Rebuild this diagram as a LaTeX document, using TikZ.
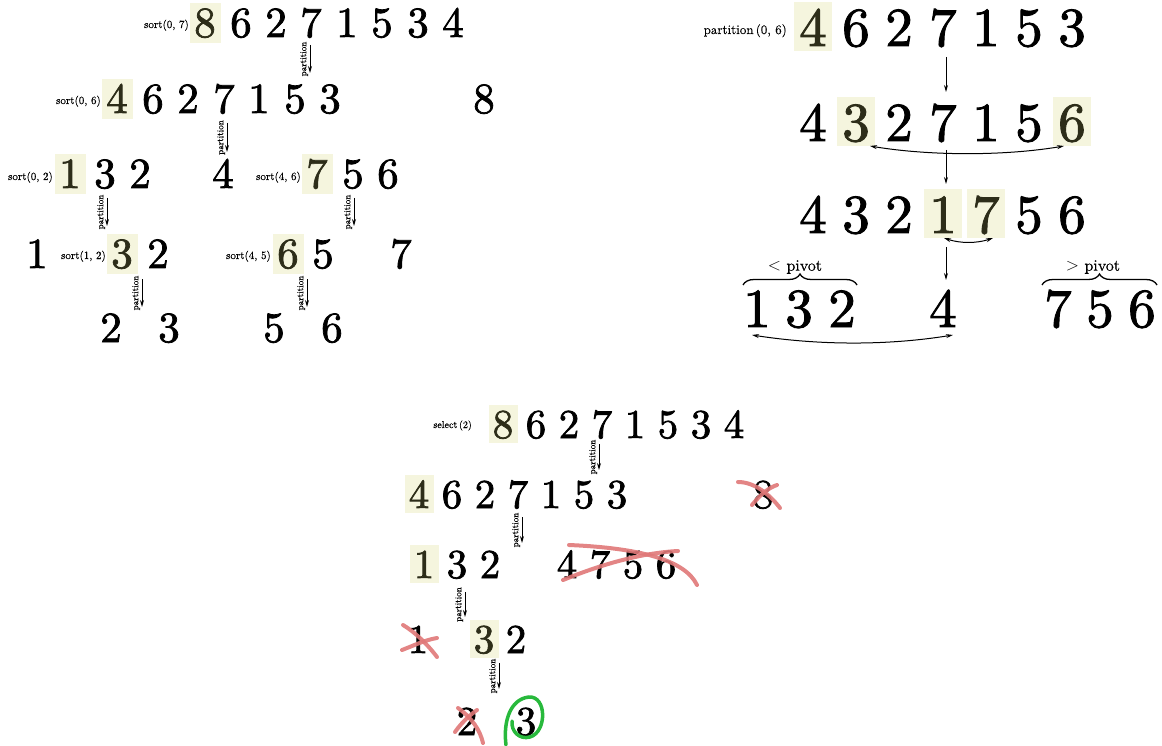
\documentclass[tikz,border=0pt]{standalone}
\usepackage{fontspec}
\setmainfont{lmroman10-regular.otf}[FakeBold=0.4]
\newfontfamily\digfont{lmroman10-regular.otf}[FakeBold=1.7]
\usetikzlibrary{arrows.meta,decorations.pathreplacing}
\definecolor{hl}{RGB}{245,245,222}
\definecolor{hltext}{RGB}{45,45,25}
\definecolor{crossred}{RGB}{224,120,120}
\definecolor{circgreen}{RGB}{40,185,60}
\tikzset{
 dA/.style={font=\digfont\fontsize{43}{43}\selectfont, anchor=base, inner sep=0pt},
 dB/.style={font=\digfont\fontsize{55}{55}\selectfont, anchor=base, inner sep=0pt},
 dC/.style={font=\digfont\fontsize{41}{41}\selectfont, anchor=base, inner sep=0pt},
 hlA/.style={fill=hl, text=hltext, text height=34pt, text depth=6pt, minimum width=31pt},
 hlB/.style={fill=hl, text=hltext, text height=44pt, text depth=5pt, minimum width=38pt},
 hlC/.style={fill=hl, text=hltext, text height=33pt, text depth=5pt, minimum width=29pt},
 lbl/.style={font=\fontsize{11}{13}\selectfont, anchor=base east, inner sep=0pt},
 lblB/.style={font=\fontsize{13}{15}\selectfont, anchor=base east, inner sep=0pt},
 lblC/.style={font=\fontsize{10}{12}\selectfont, anchor=base east, inner sep=0pt},
 arr/.style={-{Stealth[length=7pt,width=4pt]}, line width=1pt},
 dbl/.style={{Stealth[length=7pt,width=4pt]}-{Stealth[length=7pt,width=4pt]}, line width=1pt},
 plab/.style={font=\fontsize{9}{10}\selectfont, rotate=90, anchor=south, inner sep=1.5pt, midway},
 pivlab/.style={font=\fontsize{16}{18}\selectfont, inner sep=0pt},
 brc/.style={decorate, decoration={brace, amplitude=11pt}, line width=1.3pt},
 cross/.style={draw=crossred, line width=4pt, line cap=round, opacity=0.9},
 loop/.style={draw=circgreen, line width=3.5pt, line cap=round},
}
\begin{document}
\begin{tikzpicture}[x=1pt,y=-1pt]
\useasboundingbox (0,0) rectangle (1162,746);

% ---------------- top-left: sort ----------------
\node[lbl] (l1) at (189,28) {sort(0, 7)};
\node[dA,hlA] (a1) at (205,37) {8};
\node[dA] (a2) at (241,37) {6};
\node[dA] (a3) at (276,37) {2};
\node[dA] (a4) at (311,37) {7};
\node[dA] (a5) at (347,37) {1};
\node[dA] (a6) at (382,37) {5};
\node[dA] (a7) at (418,37) {3};
\node[dA] (a8) at (453,37) {4};
\coordinate (pa1) at (310,45); \coordinate (pa2) at (310,73);
\draw[arr] (pa1) -- node[plab]{partition} (pa2);

\node[lbl] (l2) at (101,104) {sort(0, 6)};
\node[dA,hlA] (b1) at (117,113) {4};
\node[dA] (b2) at (153,113) {6};
\node[dA] (b3) at (188,113) {2};
\node[dA] (b4) at (224,113) {7};
\node[dA] (b5) at (259,113) {1};
\node[dA] (b6) at (295,113) {5};
\node[dA] (b7) at (330,113) {3};
\node[dA] (b8) at (484,113) {8};
\coordinate (pb1) at (227,123); \coordinate (pb2) at (227,152);
\draw[arr] (pb1) -- node[plab]{partition} (pb2);

\node[lbl] (l3) at (53,180) {sort(0, 2)};
\node[dA,hlA] (c1) at (70,188) {1};
\node[dA] (c2) at (105,188) {3};
\node[dA] (c3) at (140,188) {2};
\node[dA] (c4) at (223,188) {4};
\node[lbl] (l4) at (301,180) {sort(4, 6)};
\node[dA,hlA] (c5) at (317,188) {7};
\node[dA] (c6) at (353,188) {5};
\node[dA] (c7) at (388,188) {6};
\coordinate (pc1) at (107,198); \coordinate (pc2) at (107,226);
\draw[arr] (pc1) -- node[plab]{partition} (pc2);
\coordinate (pc3) at (354,198); \coordinate (pc4) at (354,226);
\draw[arr] (pc3) -- node[plab]{partition} (pc4);

\node[dA] (d1) at (37,268) {1};
\node[lbl] (l5) at (106,259) {sort(1, 2)};
\node[dA,hlA] (d2) at (122,268) {3};
\node[dA] (d3) at (158,268) {2};
\node[lbl] (l6) at (271,259) {sort(4, 5)};
\node[dA,hlA] (d4) at (288,268) {6};
\node[dA] (d5) at (323,268) {5};
\node[dA] (d6) at (401,268) {7};
\coordinate (pd1) at (142,279); \coordinate (pd2) at (142,307);
\draw[arr] (pd1) -- node[plab]{partition} (pd2);
\coordinate (pd3) at (307,279); \coordinate (pd4) at (307,307);
\draw[arr] (pd3) -- node[plab]{partition} (pd4);

\node[dA] (e1) at (111,342) {2};
\node[dA] (e2) at (169,342) {3};
\node[dA] (e3) at (274,342) {5};
\node[dA] (e4) at (332,342) {6};

% ---------------- right: partition ----------------
\node[lblB] (r0) at (787,34) {partition\,(0, 6)};
\node[dB,hlB] (f1) at (813,46) {4};
\node[dB] (f2) at (856,46) {6};
\node[dB] (f3) at (899,46) {2};
\node[dB] (f4) at (943,46) {7};
\node[dB] (f5) at (986,46) {1};
\node[dB] (f6) at (1029,46) {5};
\node[dB] (f7) at (1072,46) {3};
\coordinate (pf1) at (946,57); \coordinate (pf2) at (946,92);
\draw[arr] (pf1) -- (pf2);

\node[dB] (g1) at (813,141) {4};
\node[dB,hlB] (g2) at (856,141) {3};
\node[dB] (g3) at (899,141) {2};
\node[dB] (g4) at (943,141) {7};
\node[dB] (g5) at (986,141) {1};
\node[dB] (g6) at (1029,141) {5};
\node[dB,hlB] (g7) at (1072,141) {6};
\coordinate (sg1) at (870,146); \coordinate (sg2) at (1064,146);
\draw[dbl] (sg1) .. controls (930,156) and (1005,156) .. (sg2);
\coordinate (pg1) at (946,150); \coordinate (pg2) at (946,184);
\draw[arr] (pg1) -- (pg2);

\node[dB] (h1) at (813,233) {4};
\node[dB] (h2) at (856,233) {3};
\node[dB] (h3) at (899,233) {2};
\node[dB,hlB] (h4) at (943,233) {1};
\node[dB,hlB] (h5) at (986,233) {7};
\node[dB] (h6) at (1029,233) {5};
\node[dB] (h7) at (1072,233) {6};
\coordinate (sh1) at (944,238); \coordinate (sh2) at (993,238);
\draw[dbl] (sh1) .. controls (960,243.5) and (977,243.5) .. (sh2);
\coordinate (ph1) at (946,247); \coordinate (ph2) at (946,280);
\draw[arr] (ph1) -- (ph2);

\coordinate (bl1) at (743,285); \coordinate (bl2) at (857,285);
\draw[brc] (bl1) -- (bl2);
\node[pivlab] (pv1) at (795,267) {$<$ pivot};
\coordinate (br1) at (1042,285); \coordinate (br2) at (1157,285);
\draw[brc] (br1) -- (br2);
\node[pivlab] (pv2) at (1093,267) {$>$ pivot};
\node[dB] (k1) at (757,327) {1};
\node[dB] (k2) at (799,327) {3};
\node[dB] (k3) at (842,327) {2};
\node[dB] (k4) at (943,327) {4};
\node[dB] (k5) at (1058,327) {7};
\node[dB] (k6) at (1100,327) {5};
\node[dB] (k7) at (1142,327) {6};
\coordinate (sk1) at (752,335); \coordinate (sk2) at (953,335);
\draw[dbl] (sk1) .. controls (820,345.5) and (888,345.5) .. (sk2);

% ---------------- bottom: select ----------------
\node[lblC] (s0) at (472,428) {select\,(2)};
\node[dC,hlC] (m1) at (503,438) {8};
\node[dC] (m2) at (536,438) {6};
\node[dC] (m3) at (569,438) {2};
\node[dC] (m4) at (602,438) {7};
\node[dC] (m5) at (635,438) {1};
\node[dC] (m6) at (668,438) {5};
\node[dC] (m7) at (701,438) {3};
\node[dC] (m8) at (734,438) {4};
\coordinate (pm1) at (599,444); \coordinate (pm2) at (599,470);
\draw[arr] (pm1) -- node[plab]{partition} (pm2);

\node[dC,hlC] (n1) at (419,508) {4};
\node[dC] (n2) at (452,508) {6};
\node[dC] (n3) at (485,508) {2};
\node[dC] (n4) at (518,508) {7};
\node[dC] (n5) at (551,508) {1};
\node[dC] (n6) at (584,508) {5};
\node[dC] (n7) at (617,508) {3};
\node[dC] (n8) at (763,508) {8};
\coordinate (pn1) at (522,517); \coordinate (pn2) at (522,543);
\draw[arr] (pn1) -- node[plab]{partition} (pn2);

\node[dC,hlC] (o1) at (424,578) {1};
\node[dC] (o2) at (457,578) {3};
\node[dC] (o3) at (490,578) {2};
\node[dC] (o4) at (567,578) {4};
\node[dC] (o5) at (600,578) {7};
\node[dC] (o6) at (633,578) {5};
\node[dC] (o7) at (666,578) {6};
\coordinate (po1) at (465,592); \coordinate (po2) at (465,617);
\draw[arr] (po1) -- node[plab]{partition} (po2);

\node[dC] (q1) at (418,653) {1};
\node[dC,hlC] (q2) at (484,653) {3};
\node[dC] (q3) at (516,653) {2};
\coordinate (pq1) at (499,663); \coordinate (pq2) at (499,689);
\draw[arr] (pq1) -- node[plab]{partition} (pq2);

\node[dC] (t1) at (467,735) {2};
\node[dC] (t2) at (526,735) {3};

% red crossings and green loop
\draw[cross] (738,482) .. controls (755,482) and (770,495) .. (780,508);
\draw[cross] (752,505) .. controls (760,495) and (768,488) .. (777,485);
\draw[cross] (569,545) .. controls (640,548) and (685,560) .. (697,585);
\draw[cross] (563,580) .. controls (600,565) and (640,553) .. (678,551);
\draw[cross] (403,625) .. controls (415,632) and (428,645) .. (437,657);
\draw[cross] (402,650) .. controls (415,645) and (425,640) .. (437,638);
\draw[cross] (458,708) .. controls (472,718) and (480,730) .. (483,743);
\draw[cross] (455,732) .. controls (462,722) and (470,715) .. (477,710);
\draw[loop] (506,745) .. controls (503,722) and (510,699) .. (529,697) .. controls (547,696) and (547,732) .. (530,737) .. controls (519,740) and (511,731) .. (512,721);
\end{tikzpicture}
\end{document}
